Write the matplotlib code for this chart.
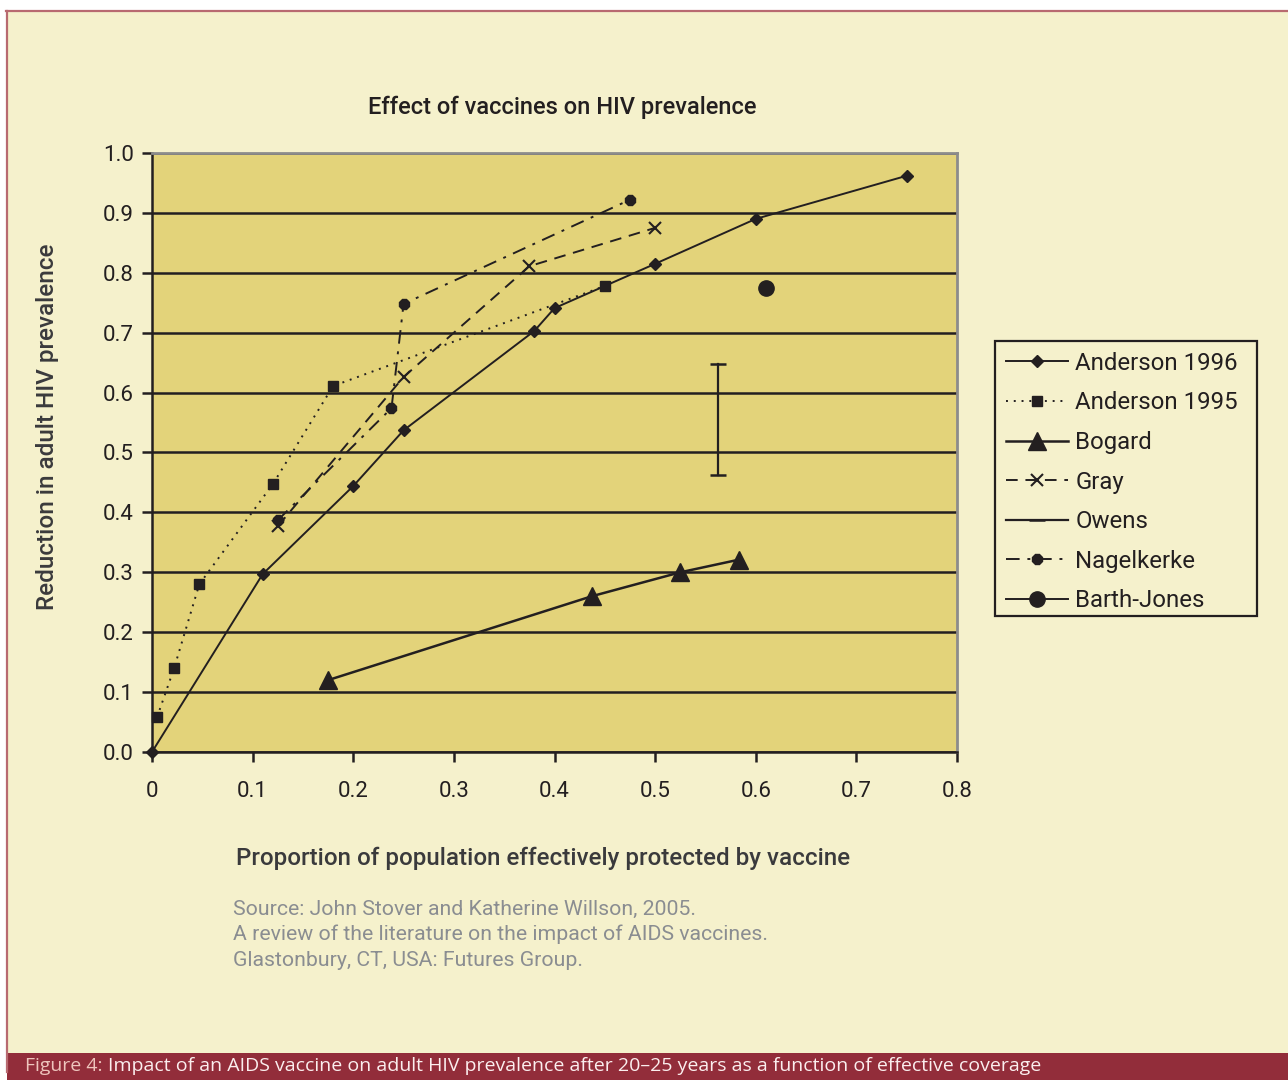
import matplotlib
matplotlib.use("Agg")
import matplotlib.pyplot as plt
from matplotlib.lines import Line2D
from matplotlib.patches import Rectangle

plt.rcParams['font.family'] = ['Roboto', 'DejaVu Sans']

# ---- data -------------------------------------------------------------
anderson96_x = [0.0, 0.11, 0.20, 0.25, 0.38, 0.40, 0.50, 0.60, 0.75]
anderson96_y = [0.0, 0.297, 0.444, 0.537, 0.703, 0.741, 0.815, 0.890, 0.962]

anderson95_x = [0.005, 0.022, 0.047, 0.12, 0.18, 0.45]
anderson95_y = [0.058, 0.140, 0.280, 0.447, 0.611, 0.778]

bogard_x = [0.175, 0.437, 0.525, 0.583]
bogard_y = [0.120, 0.260, 0.300, 0.321]

gray_x = [0.125, 0.25, 0.375, 0.50]
gray_y = [0.377, 0.626, 0.811, 0.875]

owens_x = [0.5625, 0.5625]
owens_y = [0.4625, 0.6475]

nagelkerke_x = [0.125, 0.238, 0.25, 0.475]
nagelkerke_y = [0.387, 0.574, 0.748, 0.922]

barthjones_x = [0.61]
barthjones_y = [0.775]

x_ticks = [0, 0.1, 0.2, 0.3, 0.4, 0.5, 0.6, 0.7, 0.8]
x_tick_labels = ["0", "0.1", "0.2", "0.3", "0.4", "0.5", "0.6", "0.7", "0.8"]
y_ticks = [0.0, 0.1, 0.2, 0.3, 0.4, 0.5, 0.6, 0.7, 0.8, 0.9, 1.0]
y_tick_labels = ["%.1f" % v for v in y_ticks]

# ---- colours ----------------------------------------------------------
CREAM = "#f5f1cc"
PLOT_BG = "#e3d37a"
INK = "#231f20"
BORDER = "#b86a70"
BAND = "#922d3a"
SOURCE_GREY = "#8a8d91"

W, H = 1288, 1080
fig = plt.figure(figsize=(W / 100, H / 100), dpi=100, facecolor="white")

def fx(px):
    return px / W

def fy(py):
    return 1 - py / H

# page panel and caption band (behind the axes)
fig.patches.append(Rectangle((fx(7), fy(1053)), 1 - fx(7), fy(11) - fy(1053),
                             transform=fig.transFigure, facecolor=CREAM,
                             edgecolor="none", zorder=-10))
fig.patches.append(Rectangle((fx(7), 0), 1 - fx(7), fy(1053),
                             transform=fig.transFigure, facecolor=BAND,
                             edgecolor="none", zorder=-10))
fig.lines.append(Line2D([fx(6), 1], [fy(10.5), fy(10.5)], transform=fig.transFigure,
                        color=BORDER, lw=1.6, zorder=-9))
fig.lines.append(Line2D([fx(6.5), fx(6.5)], [fy(10.5), fy(1072)], transform=fig.transFigure,
                        color=BORDER, lw=1.6, zorder=-9))

# ---- axes -------------------------------------------------------------
ax = fig.add_axes([fx(152), fy(752), fx(957) - fx(152), fy(153) - fy(752)])
ax.set_facecolor(PLOT_BG)
ax.set_xlim(0, 0.8)
ax.set_ylim(0, 1.0)

ax.set_yticks(y_ticks)
ax.set_yticklabels(y_tick_labels)
ax.set_xticks(x_ticks)
ax.set_xticklabels(x_tick_labels)
ax.tick_params(axis="both", which="major", labelsize=16, colors=INK,
               length=7, width=1.8, direction="out")
ax.tick_params(axis="x", pad=14)
ax.tick_params(axis="y", pad=6)
ax.yaxis.grid(True, color=INK, linewidth=1.8)
ax.set_axisbelow(True)

for side in ("left", "bottom"):
    ax.spines[side].set_color(INK)
    ax.spines[side].set_linewidth(1.8)
for side in ("top", "right"):
    ax.spines[side].set_color("#8c8c8c")
    ax.spines[side].set_linewidth(2.0)

lw = 1.4
ax.plot(anderson96_x, anderson96_y, color=INK, lw=lw, ls="-", marker="D",
        ms=6.5, label="Anderson 1996", clip_on=False, zorder=5)
ax.plot(anderson95_x, anderson95_y, color=INK, lw=lw, ls=(0, (1, 3)), marker="s",
        ms=7.5, label="Anderson 1995", clip_on=False, zorder=5)
ax.plot(bogard_x, bogard_y, color=INK, lw=1.8, ls="-", marker="^",
        ms=13, label="Bogard", clip_on=False, zorder=5)
ax.plot(gray_x, gray_y, color=INK, lw=lw, ls=(0, (6, 4)), marker="x",
        ms=9, mew=1.5, label="Gray", clip_on=False, zorder=5)
ax.plot(owens_x, owens_y, color=INK, lw=1.6, ls="-", marker="_",
        ms=12, mew=1.8, label="Owens", clip_on=False, zorder=5)
ax.plot(nagelkerke_x, nagelkerke_y, color=INK, lw=lw, ls=(0, (7, 4, 1.5, 4)), marker="8",
        ms=8, label="Nagelkerke", clip_on=False, zorder=5)
ax.plot(barthjones_x, barthjones_y, color=INK, lw=lw, ls="-", marker="o",
        ms=11, label="Barth-Jones", clip_on=False, zorder=5)

# ---- texts ------------------------------------------------------------
fig.text(fx(562), fy(107), "Effect of vaccines on HIV prevalence", ha="center",
         va="center", fontsize=17, color=INK, fontweight="medium")
fig.text(fx(543), fy(858), "Proportion of population effectively protected by vaccine",
         ha="center", va="center", fontsize=17.4, color="#3a3a3c", fontweight="medium")
fig.text(fx(48), fy(427), "Reduction in adult HIV prevalence", ha="center",
         va="center", rotation=90, fontsize=17.5, color="#3a3a3c", fontweight="medium")

source_lines = [
    "Source: John Stover and Katherine Willson, 2005.",
    "A review of the literature on the impact of AIDS vaccines.",
    "Glastonbury, CT, USA: Futures Group.",
]
for i, line in enumerate(source_lines):
    fig.text(fx(233), fy(909 + 25.5 * i), line, ha="left", va="center",
             fontsize=15.3, color=SOURCE_GREY)

caption = fig.text(fx(25), fy(1066), "Figure 4: ", ha="left", va="center",
                   fontsize=14, color="#eec5bd", family=["Open Sans", "DejaVu Sans"])
fig.canvas.draw()
bb = caption.get_window_extent()
fig.text(bb.x1 / W, fy(1066), "Impact of an AIDS vaccine on adult HIV prevalence after 20\u201325 years as a function of effective coverage",
         ha="left", va="center", fontsize=14, color="#fbeeee",
         family=["Open Sans", "DejaVu Sans"])

# ---- legend -----------------------------------------------------------
# box drawn separately so its padding can be set independently of the entries
fig.patches.append(Rectangle((fx(995), fy(616)), fx(1257) - fx(995), fy(341) - fy(616),
                             transform=fig.transFigure, facecolor=CREAM,
                             edgecolor=INK, lw=1.6, zorder=1))
leg = fig.legend(loc="upper left", bbox_to_anchor=(fx(995), fy(341)),
                 bbox_transform=fig.transFigure, borderaxespad=0,
                 frameon=False, fontsize=17.3,
                 handlelength=2.6, handletextpad=0.3, labelspacing=0.69,
                 borderpad=0.45)
leg.set_zorder(2)
for t in leg.get_texts():
    t.set_color(INK)

fig.savefig("out.png", dpi=100, facecolor="white")
